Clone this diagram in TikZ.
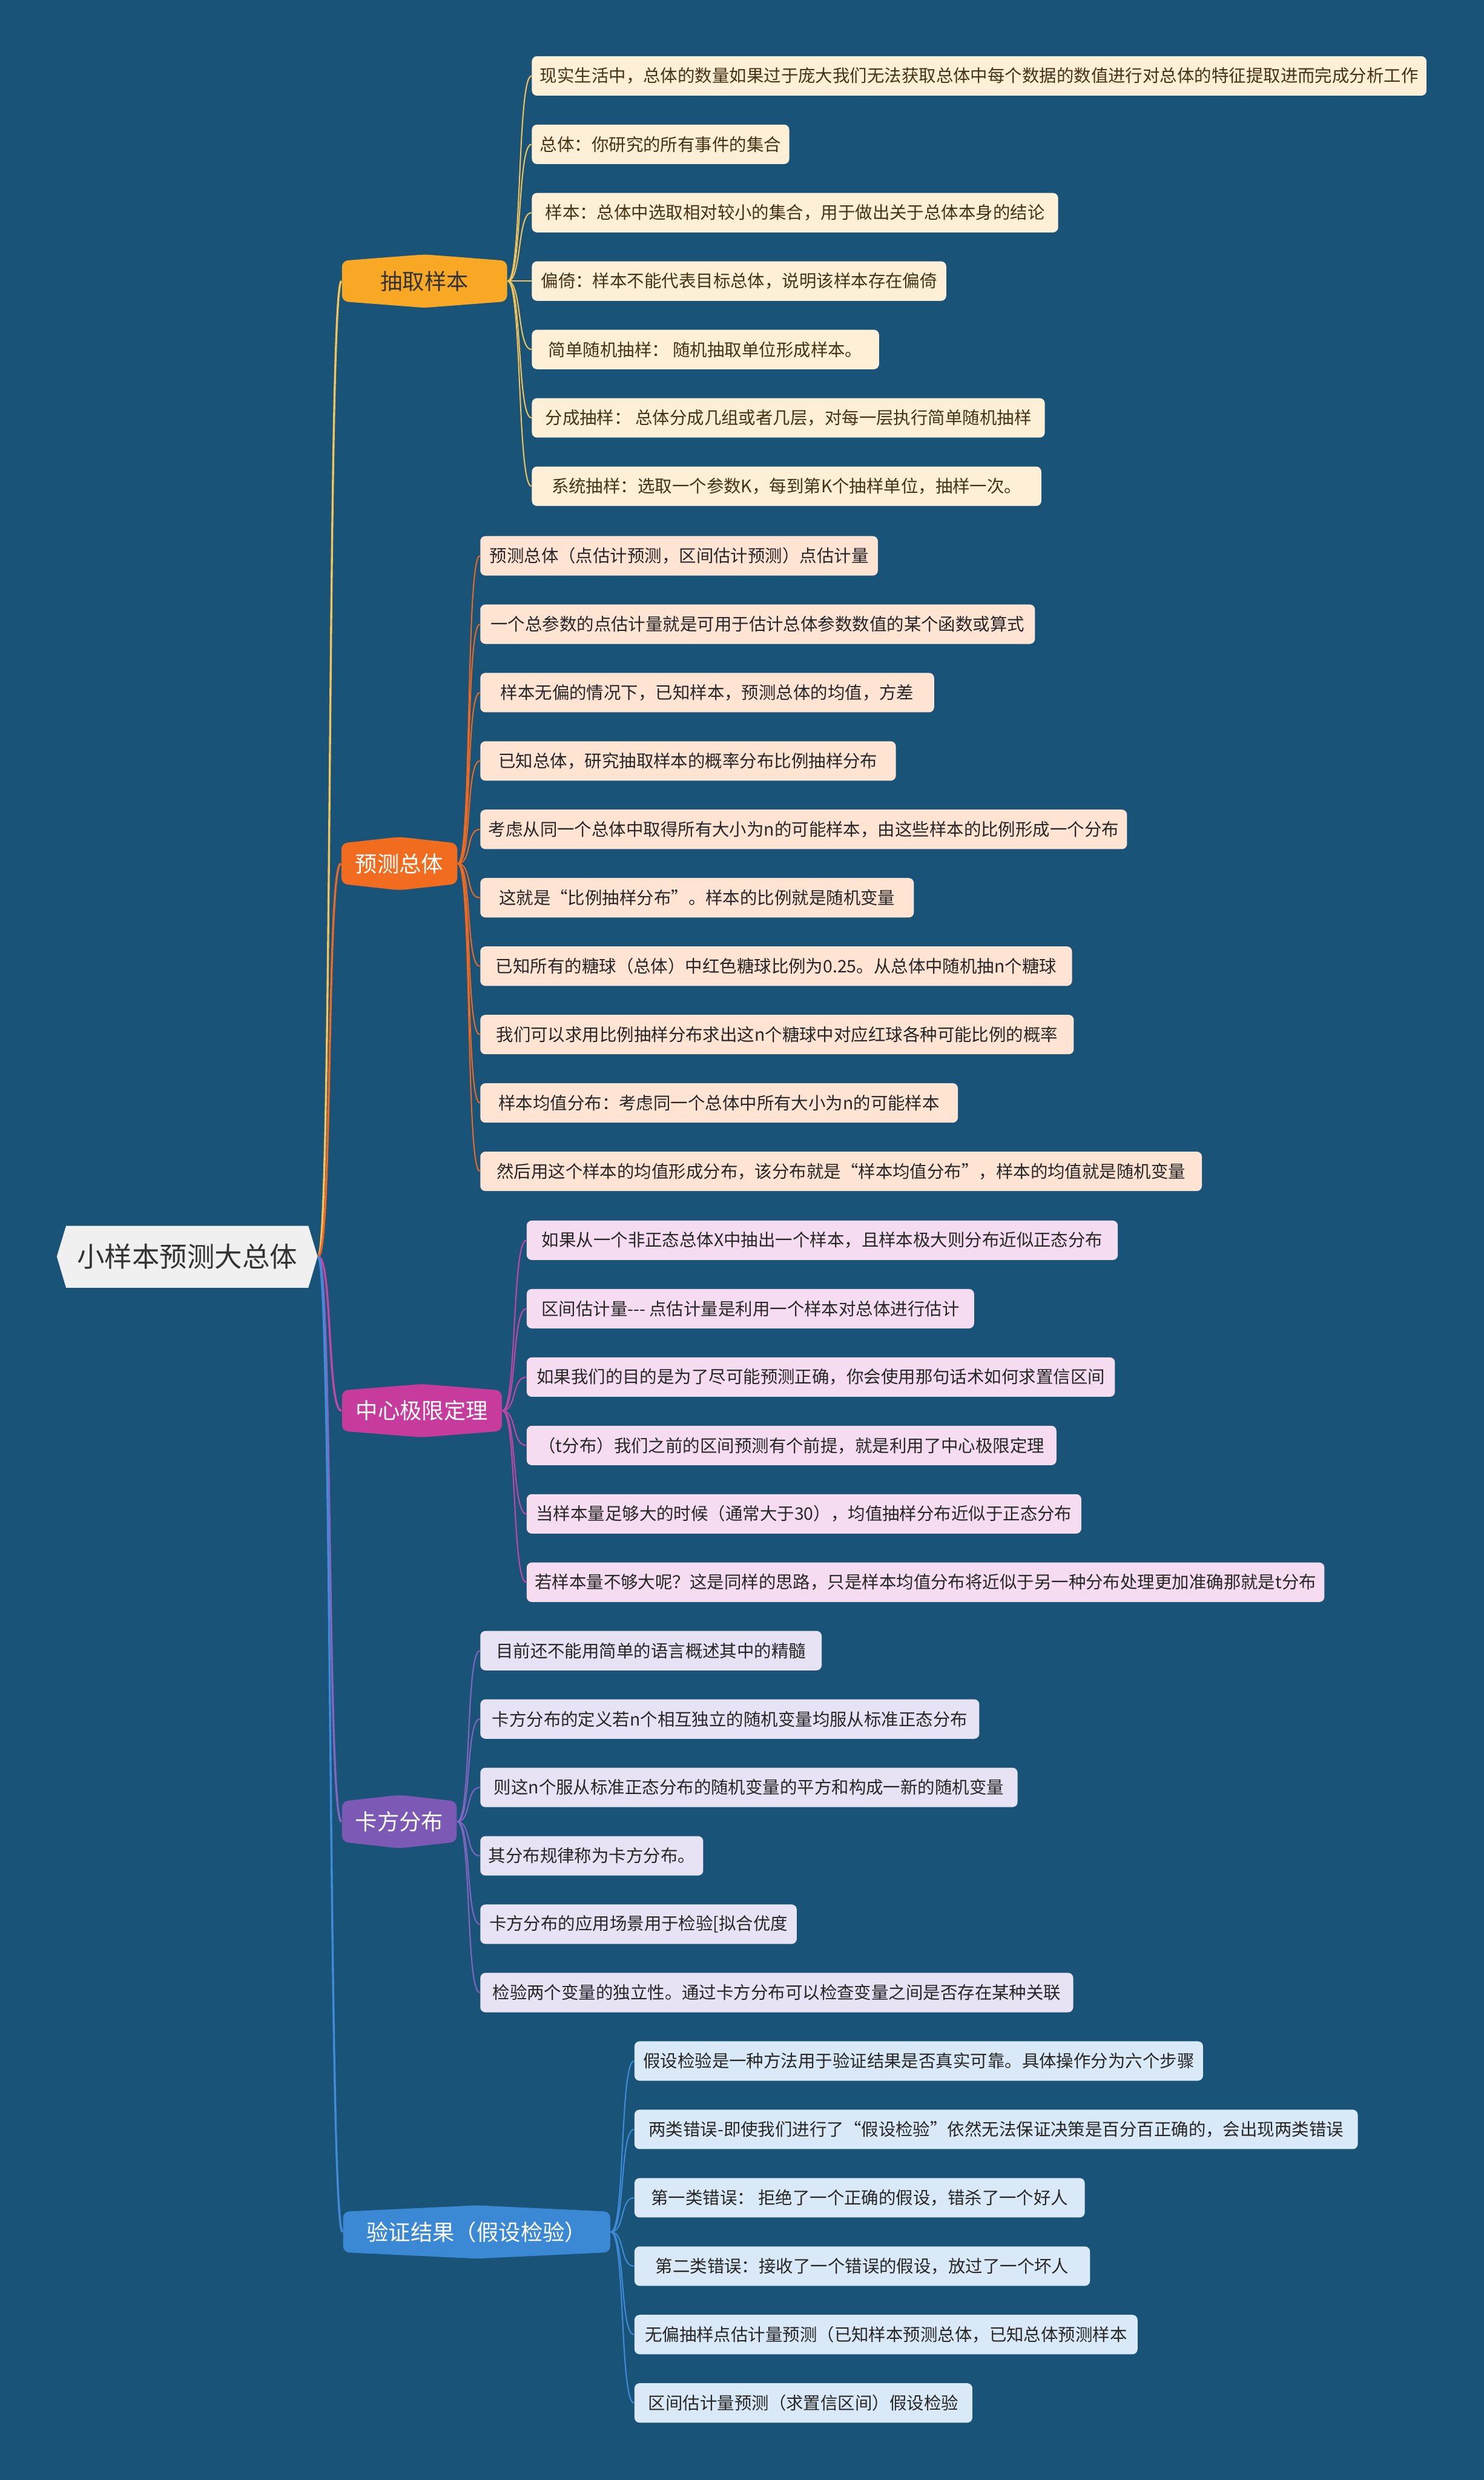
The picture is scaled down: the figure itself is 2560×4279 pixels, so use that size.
\documentclass[tikz,border=0pt]{standalone}
\usepackage{fontspec}
\setmainfont{Noto Sans CJK SC}
\usetikzlibrary{positioning}

\definecolor{bgblue}{HTML}{1A5378}
\definecolor{rootgray}{HTML}{F0F0F0}
\definecolor{brA}{HTML}{F8A825}
\definecolor{brB}{HTML}{F26C1F}
\definecolor{brC}{HTML}{C63B9C}
\definecolor{brD}{HTML}{7C59B5}
\definecolor{brE}{HTML}{3B88D4}
\definecolor{lnA}{HTML}{F2C45A}
\definecolor{lnB}{HTML}{EE6A22}
\definecolor{lnC}{HTML}{C447A6}
\definecolor{lnD}{HTML}{8466C2}
\definecolor{lnE}{HTML}{3F8CDA}
\definecolor{lfA}{HTML}{FEF0D6}
\definecolor{lfB}{HTML}{FFE3D3}
\definecolor{lfC}{HTML}{F5DCF0}
\definecolor{lfD}{HTML}{E7E2F4}
\definecolor{lfE}{HTML}{DAE9F7}

\begin{document}
\begin{tikzpicture}[x=0.01cm, y=-0.01cm,
  leaf/.style={rounded corners=2.5pt, anchor=west, minimum height=0.68cm, inner xsep=0.14cm,
    font=\fontsize{8.45}{10}\selectfont, text=black!85},
  branch/.style={minimum height=0.7cm, inner sep=0pt, font=\fontsize{10.8}{12}\selectfont},
  trunk/.style={line width=1pt},
  twig/.style={line width=0.6pt}]
\useasboundingbox (0,0) rectangle (2560,4279);
\fill[bgblue] (0,0) rectangle (2560,4279);

% root
\fill[rootgray] (98,2168) -- (114,2115) -- (532,2115) -- (548,2168) -- (532,2222) -- (114,2222) -- cycle;
\node[minimum width=4.5cm, minimum height=1.07cm, inner sep=0pt, text=black!80,
  font=\fontsize{13.5}{15}\selectfont] (root) at (323,2168) {小样本预测大总体};

% branch shapes
\foreach \xa/\xb/\y/\c in {590/875/485/brA, 589/789/1490/brB, 590/866/2434/brC, 590/788/3143/brD, 592/1053/3851/brE}
  \fill[\c, rounded corners=3pt] (\xa,\y-35) -- ({(\xa+\xb)/2},\y-46) -- (\xb,\y-35)
    -- (\xb,\y+35) -- ({(\xa+\xb)/2},\y+46) -- (\xa,\y+35) -- cycle;

\node[branch, minimum width=2.85cm, text=black!80] (b1) at (732.5,485) {抽取样本};
\node[branch, minimum width=2cm, text=white] (b2) at (689,1490) {预测总体};
\node[branch, minimum width=2.76cm, text=white] (b3) at (728,2434) {中心极限定理};
\node[branch, minimum width=1.98cm, text=white] (b4) at (689,3143) {卡方分布};
\node[branch, minimum width=4.61cm, text=white] (b5) at (822.5,3851) {验证结果（假设检验）};

\draw[trunk, lnA] (root.east) .. controls +(25,0) and +(-25,0) .. (b1.west);
\draw[trunk, lnB] (root.east) .. controls +(25,0) and +(-25,0) .. (b2.west);
\draw[trunk, lnC] (root.east) .. controls +(25,0) and +(-25,0) .. (b3.west);
\draw[trunk, lnD] (root.east) .. controls +(25,0) and +(-25,0) .. (b4.west);
\draw[trunk, lnE] (root.east) .. controls +(25,0) and +(-25,0) .. (b5.west);

% 抽取样本
\foreach \t/\w [count=\i] in {
  {现实生活中，总体的数量如果过于庞大我们无法获取总体中每个数据的数值进行对总体的特征提取进而完成分析工作}/1542,
  {总体：你研究的所有事件的集合}/441,
  {样本：总体中选取相对较小的集合，用于做出关于总体本身的结论}/908,
  {偏倚：样本不能代表目标总体，说明该样本存在偏倚}/715,
  {简单随机抽样： 随机抽取单位形成样本。}/599,
  {分成抽样： 总体分成几组或者几层，对每一层执行简单随机抽样}/885,
  {系统抽样：选取一个参数K，每到第K个抽样单位，抽样一次。}/879}{
  \node[leaf, fill=lfA, text={rgb,255:red,70;green,50;blue,20}, minimum width=\w*0.01cm] (a\i) at (917,{131+(\i-1)*118}) {\t};
  \draw[twig, lnA] (b1.east) .. controls +(25,0) and +(-25,0) .. (a\i.west);
}

% 预测总体
\foreach \t/\w [count=\i] in {
  {预测总体（点估计预测，区间估计预测）点估计量}/686,
  {一个总参数的点估计量就是可用于估计总体参数数值的某个函数或算式}/957,
  {样本无偏的情况下，已知样本，预测总体的均值，方差}/783,
  {已知总体，研究抽取样本的概率分布比例抽样分布}/717,
  {考虑从同一个总体中取得所有大小为n的可能样本，由这些样本的比例形成一个分布}/1115,
  {这就是“比例抽样分布”。样本的比例就是随机变量}/748,
  {已知所有的糖球（总体）中红色糖球比例为0.25。从总体中随机抽n个糖球}/1021,
  {我们可以求用比例抽样分布求出这n个糖球中对应红球各种可能比例的概率}/1024,
  {样本均值分布：考虑同一个总体中所有大小为n的可能样本}/824,
  {然后用这个样本的均值形成分布，该分布就是“样本均值分布”，样本的均值就是随机变量}/1245}{
  \node[leaf, fill=lfB, minimum width=\w*0.01cm] (p\i) at (828,{959+(\i-1)*118}) {\t};
  \draw[twig, lnB] (b2.east) .. controls +(25,0) and +(-25,0) .. (p\i.west);
}

% 中心极限定理
\foreach \t/\w [count=\i] in {
  {如果从一个非正态总体X中抽出一个样本，且样本极大则分布近似正态分布}/1020,
  {区间估计量{-}{-}{-} 点估计量是利用一个样本对总体进行估计}/772,
  {如果我们的目的是为了尽可能预测正确，你会使用那句话术如何求置信区间}/1015,
  {（t分布）我们之前的区间预测有个前提，就是利用了中心极限定理}/914,
  {当样本量足够大的时候（通常大于30），均值抽样分布近似于正态分布}/957,
  {若样本量不够大呢？这是同样的思路，只是样本均值分布将近似于另一种分布处理更加准确那就是t分布}/1370}{
  \node[leaf, fill=lfC, minimum width=\w*0.01cm] (c\i) at (908,{2140+(\i-1)*118}) {\t};
  \draw[twig, lnC] (b3.east) .. controls +(25,0) and +(-25,0) .. (c\i.west);
}

% 卡方分布
\foreach \t/\w [count=\i] in {
  {目前还不能用简单的语言概述其中的精髓}/589,
  {卡方分布的定义若n个相互独立的随机变量均服从标准正态分布}/861,
  {则这n个服从标准正态分布的随机变量的平方和构成一新的随机变量}/927,
  {其分布规律称为卡方分布。}/384,
  {卡方分布的应用场景用于检验[拟合优度}/546,
  {检验两个变量的独立性。通过卡方分布可以检查变量之间是否存在某种关联}/1023}{
  \node[leaf, fill=lfD, minimum width=\w*0.01cm] (k\i) at (828,{2848+(\i-1)*118}) {\t};
  \draw[twig, lnD] (b4.east) .. controls +(25,0) and +(-25,0) .. (k\i.west);
}

% 验证结果
\foreach \t/\w [count=\i] in {
  {假设检验是一种方法用于验证结果是否真实可靠。具体操作分为六个步骤}/981,
  {两类错误-即使我们进行了“假设检验”依然无法保证决策是百分百正确的，会出现两类错误}/1248,
  {第一类错误： 拒绝了一个正确的假设，错杀了一个好人}/777,
  {第二类错误：接收了一个错误的假设，放过了一个坏人}/786,
  {无偏抽样点估计量预测（已知样本预测总体，已知总体预测样本}/868,
  {区间估计量预测（求置信区间）假设检验}/583}{
  \node[leaf, fill=lfE, minimum width=\w*0.01cm] (v\i) at (1094,{3556+(\i-1)*118}) {\t};
  \draw[twig, lnE] (b5.east) .. controls +(25,0) and +(-25,0) .. (v\i.west);
}
\end{tikzpicture}
\end{document}
